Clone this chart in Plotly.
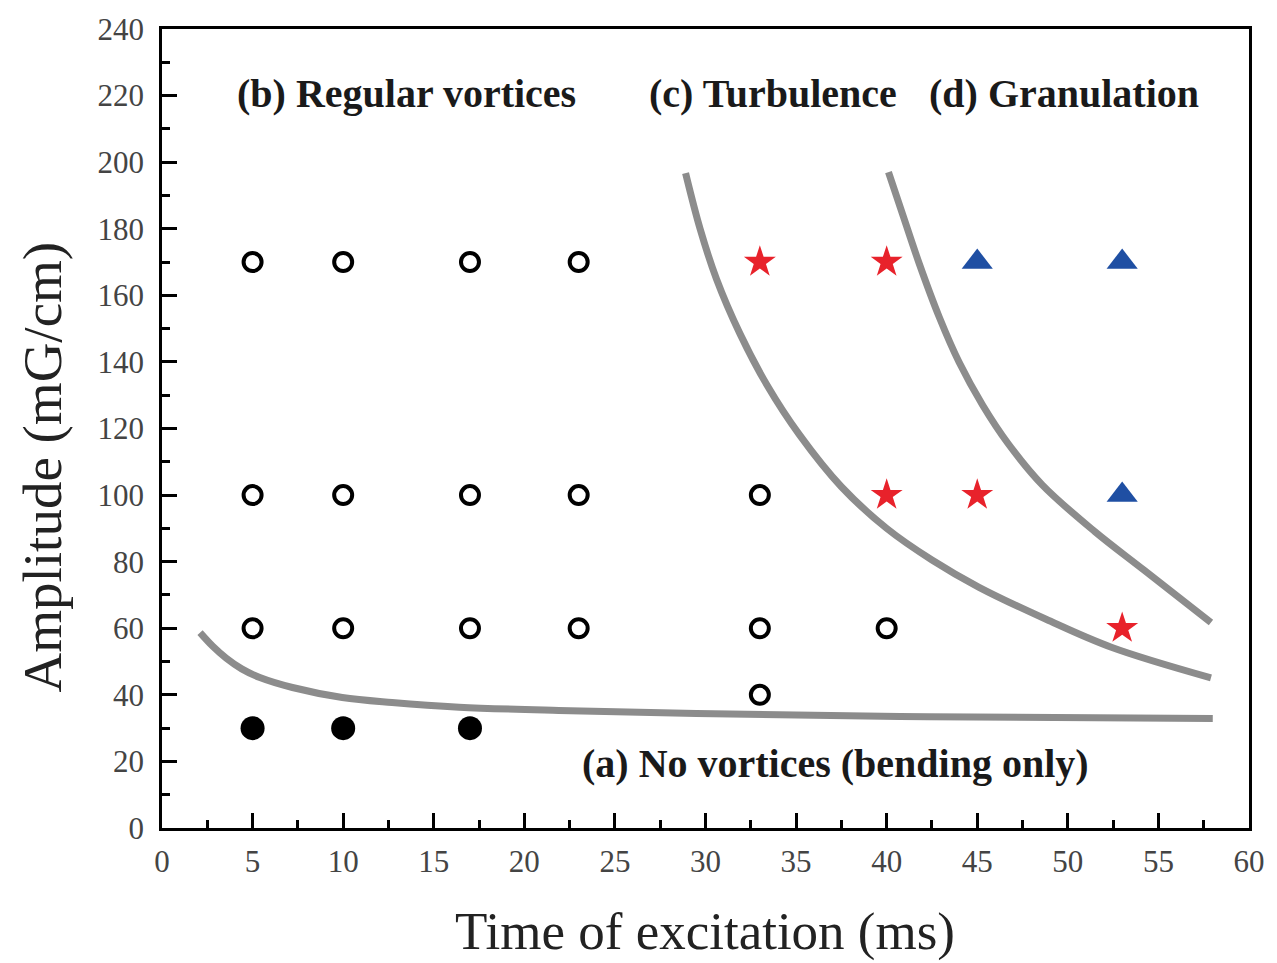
import plotly.graph_objects as go

# Data
open_x = [5, 10, 17, 23, 5, 10, 17, 23, 33, 5, 10, 17, 23, 33, 40, 33]
open_y = [170, 170, 170, 170, 100, 100, 100, 100, 100, 60, 60, 60, 60, 60, 60, 40]
filled_x = [5, 10, 17]
filled_y = [30, 30, 30]
star_x = [33, 40, 40, 45, 53]
star_y = [170, 170, 100, 100, 60]
tri_x = [45, 53, 53]
tri_y = [170, 170, 100]

curve_a_x = [2.1, 2.8, 3.55, 4.4, 5.4, 7.2, 9.95, 12.7, 16.4, 21.9, 29.5, 42.3, 58.0]
curve_a_y = [58.7, 54.6, 51.0, 47.8, 45.2, 42.2, 39.2, 37.7, 36.3, 35.3, 34.4, 33.4, 32.9]
curve_c_x = [28.9, 29.7, 30.6, 31.9, 33.4, 35.2, 37.5, 40.0, 42.5, 45.1, 48.8, 52.4, 57.9]
curve_c_y = [196.7, 180.0, 165.0, 148.5, 133.0, 118.0, 102.5, 90.0, 80.5, 72.3, 62.7, 54.3, 45.1]
curve_d_x = [40.1, 40.9, 41.8, 42.9, 44.0, 45.3, 46.7, 48.6, 51.5, 54.2, 57.9]
curve_d_y = [197.0, 184.0, 169.5, 153.5, 139.9, 127.0, 115.5, 103.0, 89.0, 77.5, 61.7]

region_labels = ["(b) Regular vortices", "(c) Turbulence", "(d) Granulation", "(a) No vortices (bending only)"]
region_x = [13.5, 33.7, 49.8, 37.2]
region_y = [220.5, 220.5, 220.5, 19.5]

x_ticks = [0, 5, 10, 15, 20, 25, 30, 35, 40, 45, 50, 55, 60]
y_ticks = [0, 20, 40, 60, 80, 100, 120, 140, 160, 180, 200, 220, 240]

x_title = "Time of excitation (ms)"
y_title = "Amplitude (mG/cm)"

FONT = "Liberation Serif"
GRAY = "#8c8c8c"

fig = go.Figure()
for cx, cy in [(curve_a_x, curve_a_y), (curve_c_x, curve_c_y), (curve_d_x, curve_d_y)]:
    fig.add_trace(go.Scatter(x=cx, y=cy, mode="lines",
                             line=dict(color=GRAY, width=7, shape="spline", smoothing=1.0),
                             showlegend=False, hoverinfo="skip"))

fig.add_trace(go.Scatter(x=open_x, y=open_y, mode="markers", showlegend=False,
                         marker=dict(symbol="circle-open", size=18, color="black",
                                     line=dict(width=4, color="black"))))
fig.add_trace(go.Scatter(x=filled_x, y=filled_y, mode="markers", showlegend=False,
                         marker=dict(symbol="circle", size=24, color="black")))
fig.add_trace(go.Scatter(x=star_x, y=star_y, mode="markers", showlegend=False,
                         marker=dict(symbol="star", size=24, color="#e8222b",
                                     line=dict(width=0))))
fig.add_trace(go.Scatter(x=tri_x, y=tri_y, mode="markers", showlegend=False,
                         marker=dict(symbol="triangle-up", size=27, color="#1f4fa3",
                                     line=dict(width=0))))

for t, x, y in zip(region_labels, region_x, region_y):
    fig.add_annotation(x=x, y=y, text="<b>" + t + "</b>", showarrow=False,
                       font=dict(family=FONT, size=40, color="#1a1a1a"))

fig.add_annotation(xref="paper", yref="paper", x=(708 - 162) / 1093, y=(828 - 932) / 803,
                   xanchor="center", yanchor="middle", text=x_title, showarrow=False,
                   font=dict(family=FONT, size=53, color="#222222"))
fig.add_annotation(xref="paper", yref="paper", x=(42 - 162) / 1093, y=(828 - 465) / 803,
                   xanchor="center", yanchor="middle", text=y_title, showarrow=False,
                   textangle=-90, font=dict(family=FONT, size=55, color="#222222"))

fig.update_xaxes(range=[0, 60], tickvals=x_ticks, ticktext=[str(v) for v in x_ticks],
                 showline=True, linecolor="black", linewidth=2.5, mirror=True,
                 ticks="inside", ticklen=15, tickwidth=2.5, tickcolor="black",
                 minor=dict(ticks="inside", ticklen=8, tickwidth=2.5, tickcolor="black", dtick=2.5, tick0=0, showgrid=False),
                 showgrid=False, zeroline=False, ticklabelstandoff=4,
                 tickfont=dict(family=FONT, size=31, color="#444444"))
fig.update_yaxes(range=[0, 240], tickvals=y_ticks, ticktext=[str(v) for v in y_ticks],
                 showline=True, linecolor="black", linewidth=2.5, mirror=True,
                 ticks="inside", ticklen=15, tickwidth=2.5, tickcolor="black",
                 minor=dict(ticks="inside", ticklen=8, tickwidth=2.5, tickcolor="black", dtick=10, tick0=0, showgrid=False),
                 showgrid=False, zeroline=False, ticklabelstandoff=9,
                 tickfont=dict(family=FONT, size=31, color="#444444"))

fig.update_layout(width=1277, height=963, autosize=False,
                  margin=dict(l=162, r=22, t=25, b=135),
                  paper_bgcolor="white", plot_bgcolor="white")

fig.write_html("out.html")
